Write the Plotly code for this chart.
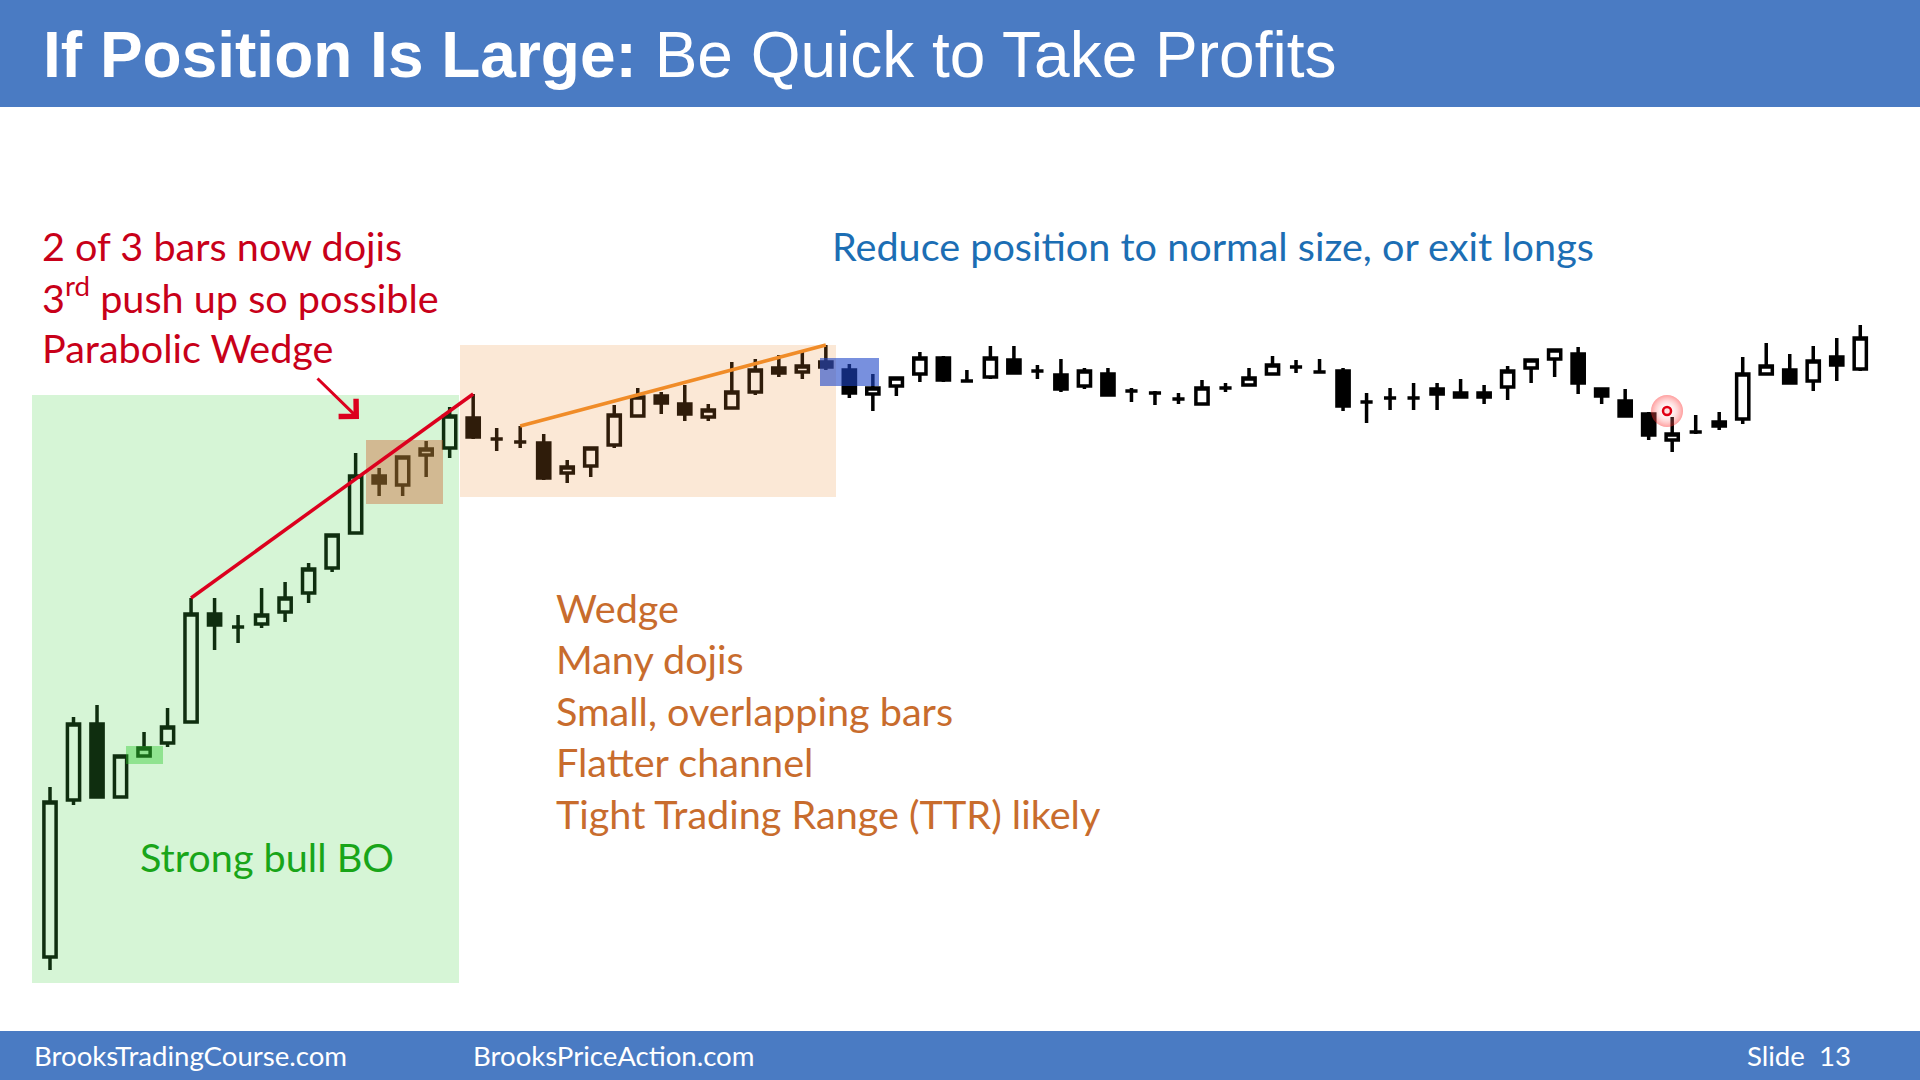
import plotly.graph_objects as go

# ---------------- data (price units; higher = up) ----------------
bar_index = list(range(78))
y_open = [43, 200, 276, 203, 244, 257, 278, 386, 373, 376, 388, 407, 432, 467, 524, 515, 545, 552, 582, 561,
          558, 557, 527, 534, 555, 584, 604, 596, 583, 592, 608, 632, 628, 638, 630, 606, 614, 626, 642, 619,
          623, 640, 629, 625, 614, 626, 609, 607, 601, 596, 612, 615, 626, 633, 628, 629, 598, 602, 602, 611,
          607, 607, 613, 632, 641, 646, 611, 599, 586, 560, 568, 574, 581, 626, 630, 619, 643, 631]
y_high = [213, 283, 295, 244, 268, 292, 402, 402, 385, 412, 418, 437, 465, 547, 532, 543, 559, 593, 606, 572,
          574, 566, 540, 552, 595, 612, 608, 615, 596, 638, 641, 645, 648, 655, 636, 626, 622, 648, 644, 630,
          654, 654, 635, 641, 632, 632, 612, 609, 607, 620, 617, 632, 644, 640, 641, 632, 607, 612, 617, 617,
          621, 615, 634, 640, 650, 653, 611, 611, 588, 583, 585, 588, 643, 657, 646, 654, 662, 675]
y_low = [30, 195, 203, 203, 244, 253, 278, 350, 357, 372, 378, 397, 428, 467, 504, 504, 523, 542, 561, 549,
         552, 520, 517, 523, 552, 584, 586, 579, 579, 592, 605, 623, 621, 630, 602, 589, 604, 618, 618, 619,
         621, 627, 621, 608, 611, 605, 598, 595, 596, 596, 608, 615, 626, 627, 628, 589, 577, 590, 590, 590,
         603, 596, 600, 617, 623, 606, 596, 584, 560, 548, 566, 570, 576, 626, 617, 609, 619, 629]
y_close = [198, 276, 203, 244, 252, 273, 386, 375, 373, 385, 402, 431, 465, 524, 517, 543, 551, 584, 563, 561,
           558, 522, 533, 552, 585, 603, 597, 586, 590, 608, 630, 627, 634, 633, 607, 612, 622, 642, 620, 619,
           642, 627, 629, 611, 629, 605, 609, 607, 601, 612, 612, 622, 635, 633, 628, 594, 598, 602, 602, 606,
           603, 603, 629, 640, 650, 617, 604, 584, 565, 566, 568, 578, 626, 634, 617, 639, 635, 662]

# cursor highlight dot
dot_x = [68.78]
dot_y = [589]

# trend lines connect the highs of these bars
red_line_bars = [6, 18]
orange_line_bars = [20, 33]

W, H = 1920, 1080
X0, DX = 50.0, 23.51        # pixel of first bar, pixel spacing per bar
Y_TOP = 1000                # price at pixel row 0


def px(x):
    return x / W


def py(y):
    return 1 - y / H


def bx(xp):   # pixel -> bar coordinate
    return (xp - X0) / DX


def pr(yp):   # pixel -> price coordinate
    return Y_TOP - yp


fig = go.Figure()

fig.add_trace(go.Candlestick(
    x=bar_index, open=y_open, high=y_high, low=y_low, close=y_close,
    increasing=dict(line=dict(color="black", width=3.5), fillcolor="white"),
    decreasing=dict(line=dict(color="black", width=3.5), fillcolor="black"),
    whiskerwidth=0, hoverinfo="none", showlegend=False,
))

# glow + ring for the cursor dot
fig.add_trace(go.Scatter(
    x=dot_x, y=dot_y, mode="markers", hoverinfo="none", showlegend=False,
    marker=dict(size=32, color="rgba(255,40,40,0.45)", line=dict(width=0),
                gradient=dict(type="radial", color="rgba(255,255,255,0)")),
))
fig.add_trace(go.Scatter(
    x=dot_x, y=dot_y, mode="markers", hoverinfo="none", showlegend=False,
    marker=dict(size=8, color="rgb(255,225,225)", line=dict(width=2.5, color="rgb(225,0,20)")),
))

shapes = []
BLUE = "#4A7BC3"
# header / footer bars
shapes.append(dict(type="rect", xref="paper", yref="paper", x0=0, x1=1, y0=py(107), y1=1,
                   fillcolor=BLUE, line=dict(width=0), layer="below"))
shapes.append(dict(type="rect", xref="paper", yref="paper", x0=0, x1=1, y0=0, y1=py(1031),
                   fillcolor=BLUE, line=dict(width=0), layer="below"))


# translucent highlight boxes over the candles
def hbox(x0p, x1p, y0p, y1p, color):
    shapes.append(dict(type="rect", xref="x", yref="y", x0=bx(x0p), x1=bx(x1p),
                       y0=pr(y1p), y1=pr(y0p), fillcolor=color, line=dict(width=0), layer="above"))


hbox(32, 459, 395, 983, "rgba(70,210,70,0.22)")
hbox(366, 443, 440, 504, "rgba(205,95,45,0.40)")
hbox(126, 163, 746, 764, "rgba(40,200,40,0.40)")
hbox(460, 836, 345, 497, "rgba(235,140,50,0.20)")
hbox(820, 879, 358, 386, "rgba(30,70,200,0.60)")

# trend lines through highs
a, b = red_line_bars
shapes.append(dict(type="line", xref="x", yref="y", x0=bar_index[a], y0=y_high[a],
                   x1=bar_index[b], y1=y_high[b], line=dict(color="rgb(220,0,30)", width=3.5), layer="above"))
a, b = orange_line_bars
shapes.append(dict(type="line", xref="x", yref="y", x0=bar_index[a], y0=y_high[a],
                   x1=bar_index[b], y1=y_high[b], line=dict(color="rgb(240,140,40)", width=3.5), layer="above"))

fig.update_layout(shapes=shapes)

FONT = "Lato"
ann = []


def txt(text, x, y, size, color, family=FONT, xanchor="left"):
    ann.append(dict(text=text, x=px(x), y=py(y), xref="paper", yref="paper", showarrow=False,
                    xanchor=xanchor, yanchor="middle", font=dict(family=family, size=size, color=color)))


txt("<b>If Position Is Large:</b> Be Quick to Take Profits", 41, 55, 64, "white", family="Liberation Sans")

RED = "rgb(200,0,25)"
txt("2 of 3 bars now dojis", 40, 246, 39.6, RED)
txt("3<sup>rd</sup> push up so possible", 40, 295, 39.6, RED)
txt("Parabolic Wedge", 40, 347, 39.6, RED)

txt("Reduce position to normal size, or exit longs", 830, 246, 39.6, "rgb(28,110,180)")

ORANGE = "rgb(200,108,45)"
for i, line in enumerate(["Wedge", "Many dojis", "Small, overlapping bars", "Flatter channel",
                          "Tight Trading Range (TTR) likely"]):
    txt(line, 554, 607 + i * 51.5, 39.6, ORANGE)

txt("Strong bull BO", 138, 856, 39.6, "rgb(25,165,25)")

txt("BrooksTradingCourse.com", 32, 1055, 27.6, "white")
txt("BrooksPriceAction.com", 471, 1055, 27.6, "white")
txt("Slide  13", 1853, 1055, 27.6, "white", xanchor="right")

# red arrow
ann.append(dict(x=bx(359), y=pr(419), xref="x", yref="y", ax=-43, ay=-42, axref="pixel", ayref="pixel",
                showarrow=True, arrowhead=4, arrowsize=1.6, arrowwidth=3, arrowcolor="rgb(220,0,30)",
                text=""))

fig.update_layout(
    annotations=ann,
    width=W, height=H,
    margin=dict(l=0, r=0, t=0, b=0),
    paper_bgcolor="white", plot_bgcolor="white",
    boxgap=0.26,
    xaxis=dict(visible=False, range=[bx(0), bx(W)], rangeslider=dict(visible=False), fixedrange=True),
    yaxis=dict(visible=False, range=[pr(H), pr(0)], fixedrange=True),
    showlegend=False,
    hovermode=False,
)

fig.write_html("out.html", config={"displayModeBar": False},
               post_script="document.body.style.margin='0';document.body.style.overflow='hidden';")
